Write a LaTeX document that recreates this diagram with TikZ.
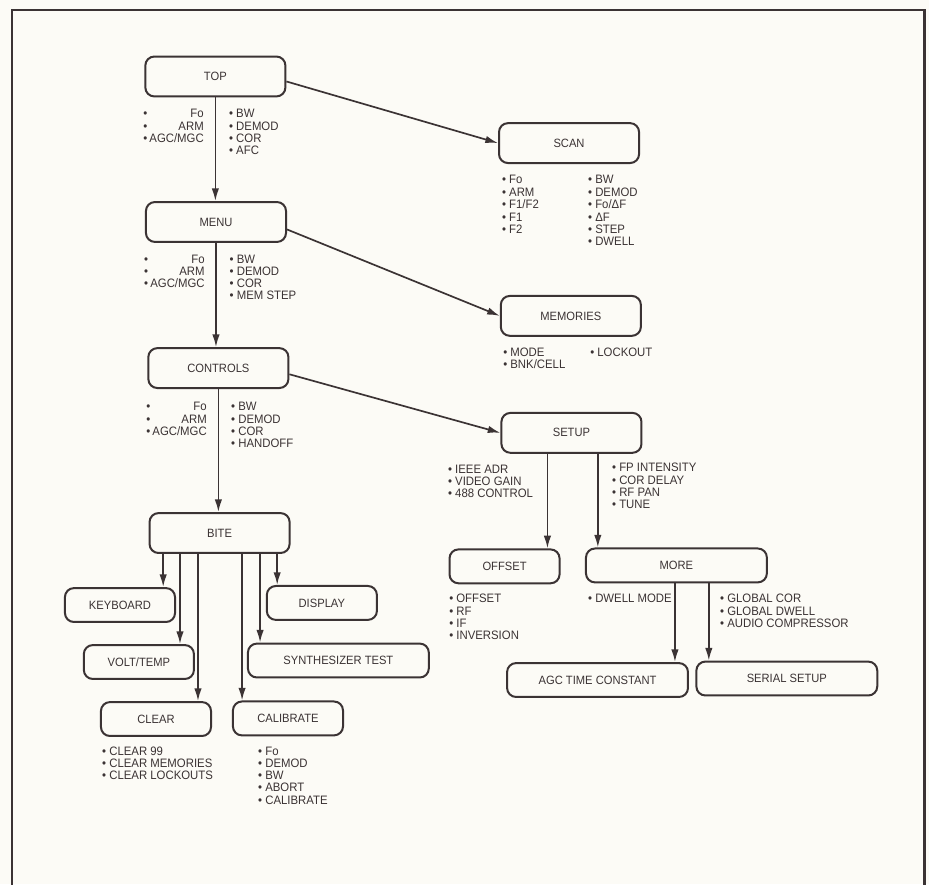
\documentclass[tikz,border=0pt]{standalone}
\usepackage{fontspec}
\setmainfont{Liberation Sans}[FakeStretch=0.93]
\usepackage{tikz}
\usetikzlibrary{arrows.meta}

\definecolor{paper}{HTML}{FCFBF6}
\definecolor{ink}{HTML}{3B3334}

\newcommand{\bu}{\textbullet\ }
\newcommand{\leftitems}[1]{\begin{tabular}[t]{@{}l@{\hspace{2pt}}r@{}}#1\end{tabular}}
\newcommand{\items}[1]{\begin{tabular}[t]{@{}l@{}}#1\end{tabular}}

\begin{document}
\begin{tikzpicture}[
	box/.style={draw=ink, text=ink, line width=1.9pt, rounded corners=0.3cm,
		minimum width=4.67cm, minimum height=1.33cm, font=\fontsize{11.4}{13}\selectfont},
	smallbox/.style={box, minimum width=3.67cm, minimum height=1.13cm},
	widebox/.style={box, minimum width=6.03cm, minimum height=1.13cm},
	items/.style={inner sep=0pt, text=ink, font=\fontsize{11.6}{11.67}\selectfont},
	arr/.style={draw=ink, line width=1.6pt, -{Latex[length=12pt,width=7pt]}}
]
\fill[paper] (0,0) rectangle (30.97,-29.47);
\useasboundingbox (0,0) rectangle (30.97,-29.47);
\draw[ink, line width=2pt] (0.4,-29.8) -- (0.4,-0.33) -- (30.82,-0.33) -- (30.82,-29.8);

\node[box] (top) at (7.18,-2.55) {TOP};
\node[box] (menu) at (7.2,-7.4) {MENU};
\node[box] (controls) at (7.28,-12.27) {CONTROLS};
\node[box] (bite) at (7.32,-17.77) {BITE};
\node[box] (scan) at (18.97,-4.77) {SCAN};
\node[box] (memories) at (19.03,-10.53) {MEMORIES};
\node[box] (setup) at (19.05,-14.43) {SETUP};
\node[smallbox] (offset) at (16.82,-18.88) {OFFSET};
\node[widebox] (more) at (22.55,-18.85) {MORE};
\node[widebox] (agc) at (19.92,-22.67) {AGC TIME CONSTANT};
\node[widebox] (serial) at (26.23,-22.62) {SERIAL SETUP};
\node[smallbox] (keyboard) at (4.0,-20.17) {KEYBOARD};
\node[smallbox] (display) at (10.73,-20.1) {DISPLAY};
\node[smallbox] (volttemp) at (4.63,-22.07) {VOLT/TEMP};
\node[widebox] (synth) at (11.28,-22.02) {SYNTHESIZER TEST};
\node[smallbox] (clear) at (5.2,-23.97) {CLEAR};
\node[smallbox] (calibrate) at (9.6,-23.95) {CALIBRATE};

\draw[arr] (top.south) -- (top.south |- menu.north);
\draw[arr] (menu.south) -- (menu.south |- controls.north);
\draw[arr] (controls.south) -- (controls.south |- bite.north);
\draw[arr] (top.-4.5) -- (scan.west);
\draw[arr] (menu.-6.5) -- (memories.west);
\draw[arr] (controls.-5.7) -- (setup.west);
\draw[arr] ([xshift=-0.8cm]setup.south) -- ([xshift=-0.8cm]setup.south |- offset.north);
\draw[arr] ([xshift=0.88cm]setup.south) -- ([xshift=0.88cm]setup.south |- more.north);
\draw[arr] ([xshift=-0.05cm]more.south) -- ([xshift=-0.05cm]more.south |- agc.north);
\draw[arr] ([xshift=1.08cm]more.south) -- ([xshift=1.08cm]more.south |- serial.north);
\foreach \dx/\dest in {-1.88/keyboard,-1.32/volttemp,-0.72/clear,0.75/calibrate,1.35/synth,1.92/display}
	\draw[arr] ([xshift=\dx cm]bite.south) -- ([xshift=\dx cm]bite.south |- \dest.north);

\node[items, anchor=base east] (topl) at (6.8,-3.93) {\leftitems{\textbullet&Fo\\\textbullet&ARM\\\textbullet&AGC/MGC}};
\node[items, anchor=base west] (topr) at (7.63,-3.93) {\items{\bu BW\\\bu DEMOD\\\bu COR\\\bu AFC}};
\node[items, anchor=base east] (menul) at (6.83,-8.77) {\leftitems{\textbullet&Fo\\\textbullet&ARM\\\textbullet&AGC/MGC}};
\node[items, anchor=base west] (menur) at (7.65,-8.77) {\items{\bu BW\\\bu DEMOD\\\bu COR\\\bu MEM STEP}};
\node[items, anchor=base east] (controlsl) at (6.9,-13.7) {\leftitems{\textbullet&Fo\\\textbullet&ARM\\\textbullet&AGC/MGC}};
\node[items, anchor=base west] (controlsr) at (7.7,-13.7) {\items{\bu BW\\\bu DEMOD\\\bu COR\\\bu HANDOFF}};
\node[items, anchor=base west] (scanl) at (16.73,-6.13) {\items{\bu Fo\\\bu ARM\\\bu F1/F2\\\bu F1\\\bu F2}};
\node[items, anchor=base west] (scanr) at (19.6,-6.13) {\items{\bu BW\\\bu DEMOD\\\bu Fo/ΔF\\\bu ΔF\\\bu STEP\\\bu DWELL}};
\node[items, anchor=base west] (memoriesl) at (16.77,-11.87) {\items{\bu MODE\\\bu BNK/CELL}};
\node[items, anchor=base west] (memoriesr) at (19.67,-11.87) {\items{\bu LOCKOUT}};
\node[items, anchor=base west] (setupl) at (14.93,-15.77) {\items{\bu IEEE ADR\\\bu VIDEO GAIN\\\bu 488 CONTROL}};
\node[items, anchor=base west] (setupr) at (20.4,-15.73) {\items{\bu FP INTENSITY\\\bu COR DELAY\\\bu RF PAN\\\bu TUNE}};
\node[items, anchor=base west] (offsetl) at (14.97,-20.1) {\items{\bu OFFSET\\\bu RF\\\bu IF\\\bu INVERSION}};
\node[items, anchor=base west] (morel) at (19.6,-20.1) {\items{\bu DWELL MODE}};
\node[items, anchor=base west] (morer) at (24.0,-20.1) {\items{\bu GLOBAL COR\\\bu GLOBAL DWELL\\\bu AUDIO COMPRESSOR}};
\node[items, anchor=base west] (clearl) at (3.4,-25.17) {\items{\bu CLEAR 99\\\bu CLEAR MEMORIES\\\bu CLEAR LOCKOUTS}};
\node[items, anchor=base west] (calibratel) at (8.6,-25.17) {\items{\bu Fo\\\bu DEMOD\\\bu BW\\\bu ABORT\\\bu CALIBRATE}};

\end{tikzpicture}
\end{document}
